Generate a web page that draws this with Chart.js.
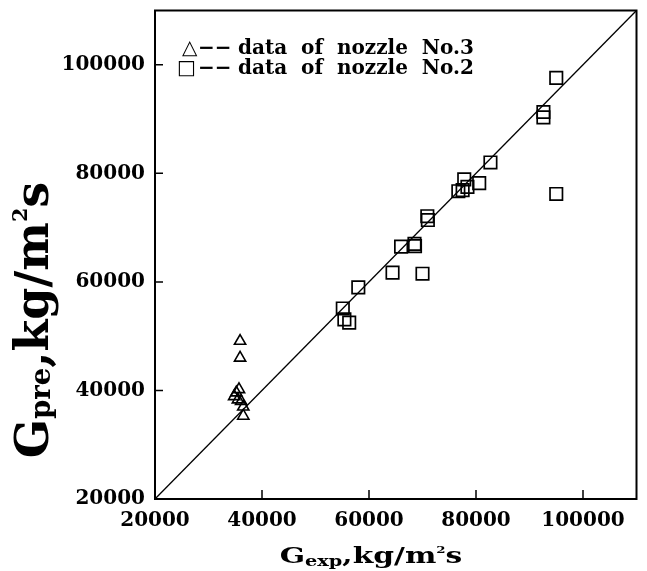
<!DOCTYPE html>
<html>
<head>
<meta charset="utf-8">
<script src="https://cdn.jsdelivr.net/npm/chart.js@4.4.0/dist/chart.umd.min.js"></script>
<style>
  html, body { margin: 0; padding: 0; background: #fff; }
  #wrap { width: 647px; height: 571px; }
</style>
</head>
<body>
<div id="wrap"><canvas id="plot"></canvas></div>
<script>
// nozzle No.3 (triangles)
const triX = [35900, 35900, 35700, 35200, 34800, 36100, 35500, 36500, 36500];
const triY = [49100, 46000, 40200, 39600, 38900, 38000, 38300, 37000, 35300];
// nozzle No.2 (squares)
const sqX = [95000, 92600, 92600, 95000, 82700, 77800, 80600, 76700, 78400, 77500, 70900, 71000, 68500, 68600, 66000, 64400, 70000, 58000, 55100, 55400, 56300];
const sqY = [97600, 91300, 90300, 76200, 82000, 78900, 78200, 76700, 77500, 76900, 72100, 71400, 67000, 66600, 66500, 61700, 61500, 59000, 55100, 53100, 52500];
// y = x reference line
const lineXY = [20000, 110000];
const xTicks = [20000, 40000, 60000, 80000, 100000];
const yTicks = [20000, 40000, 60000, 80000, 100000];
const legendLabels = ["data  of  nozzle  No.3", "data  of  nozzle  No.2"];

const SERIF = "'DejaVu Serif', serif";

function toPoints(xs, ys) {
  return xs.map((x, i) => ({ x: x, y: ys[i] }));
}

// draws "G" + sub + ",kg/m" + sup "2" + "s"
function drawTitle(ctx, size, sub, subScale, subShift) {
  const parts = [
    { t: "G", s: 1, dy: 0 },
    { t: sub, s: subScale, dy: subShift * size },
    { t: ",kg/m", s: 1, dy: 0 },
    { t: "2", s: 0.45, dy: -0.45 * size },
    { t: "s", s: 1, dy: 0 }
  ];
  let total = 0;
  parts.forEach(p => {
    ctx.font = "bold " + (size * p.s) + "px " + SERIF;
    p.w = ctx.measureText(p.t).width;
    total += p.w;
  });
  let x = -total / 2;
  parts.forEach(p => {
    ctx.font = "bold " + (size * p.s) + "px " + SERIF;
    ctx.fillText(p.t, x, p.dy);
    x += p.w;
  });
}

const framePlugin = {
  id: "frame",
  afterDraw(chart) {
    const ctx = chart.ctx;
    const a = chart.chartArea;
    const xs = chart.scales.x, ys = chart.scales.y;
    ctx.save();
    ctx.strokeStyle = "#000";
    ctx.lineWidth = 2;
    ctx.strokeRect(a.left, a.top, a.right - a.left, a.bottom - a.top);
    // inward ticks
    ctx.lineWidth = 1.5;
    ctx.beginPath();
    xs.ticks.forEach(t => {
      const px = xs.getPixelForValue(t.value);
      ctx.moveTo(px, a.bottom);
      ctx.lineTo(px, a.bottom - 9);
    });
    ys.ticks.forEach(t => {
      const py = ys.getPixelForValue(t.value);
      ctx.moveTo(a.left, py);
      ctx.lineTo(a.left + 8, py);
    });
    ctx.stroke();

    ctx.fillStyle = "#000";
    ctx.textBaseline = "alphabetic";
    ctx.textAlign = "left";

    // legend
    ctx.font = "bold 20px " + SERIF;
    ctx.fillText("\u25B3", 182, 54);
    ctx.fillText("\u2212\u2212", 198, 54);
    ctx.fillText(legendLabels[0], 238, 54);
    ctx.fillText("\u25A1", 177, 74);
    ctx.fillText("\u2212\u2212", 198, 74);
    ctx.fillText(legendLabels[1], 238, 74);

    // x title
    ctx.save();
    ctx.translate(371, 563);
    ctx.scale(1.35, 1);
    drawTitle(ctx, 22, "exp", 0.65, 0.12);
    ctx.restore();

    // y title
    ctx.save();
    ctx.translate(48, 320);
    ctx.rotate(-Math.PI / 2);
    drawTitle(ctx, 46, "pre", 0.6, 0.05);
    ctx.restore();

    ctx.restore();
  }
};

const tickFont = { family: SERIF, size: 20, weight: "bold" };

new Chart(document.getElementById("plot"), {
  type: "scatter",
  data: {
    datasets: [
      {
        label: "y=x",
        data: toPoints(lineXY, lineXY),
        showLine: true,
        borderColor: "#000",
        borderWidth: 1.3,
        pointRadius: 0,
        fill: false
      },
      {
        label: "data of nozzle No.3",
        data: toPoints(triX, triY),
        pointStyle: "triangle",
        pointRadius: 6.5,
        borderColor: "#000",
        backgroundColor: "rgba(0,0,0,0)",
        borderWidth: 1.6
      },
      {
        label: "data of nozzle No.2",
        data: toPoints(sqX, sqY),
        pointStyle: "rect",
        pointRadius: 8.8,
        borderColor: "#000",
        backgroundColor: "rgba(0,0,0,0)",
        borderWidth: 1.7
      }
    ]
  },
  options: {
    responsive: true,
    maintainAspectRatio: false,
    animation: false,
    layout: { padding: { top: 10, right: 8, left: 0, bottom: 0 } },
    plugins: {
      legend: { display: false },
      tooltip: { enabled: false }
    },
    scales: {
      x: {
        type: "linear",
        min: 20000,
        max: 110000,
        afterBuildTicks: s => { s.ticks = xTicks.map(v => ({ value: v })); },
        afterFit: s => { s.height = 72; s.paddingLeft = 0; s.paddingRight = 0; },
        grid: { display: false, drawTicks: false },
        border: { display: false },
        ticks: {
          color: "#000",
          font: tickFont,
          padding: 10,
          maxRotation: 0,
          callback: v => String(v)
        }
      },
      y: {
        type: "linear",
        min: 20000,
        max: 110000,
        afterBuildTicks: s => { s.ticks = yTicks.map(v => ({ value: v })); },
        afterFit: s => { s.width = 155; s.paddingTop = 0; s.paddingBottom = 0; },
        grid: { display: false, drawTicks: false },
        border: { display: false },
        ticks: {
          color: "#000",
          font: tickFont,
          padding: 10,
          callback: v => String(v)
        }
      }
    }
  },
  plugins: [framePlugin]
});
</script>
</body>
</html>
